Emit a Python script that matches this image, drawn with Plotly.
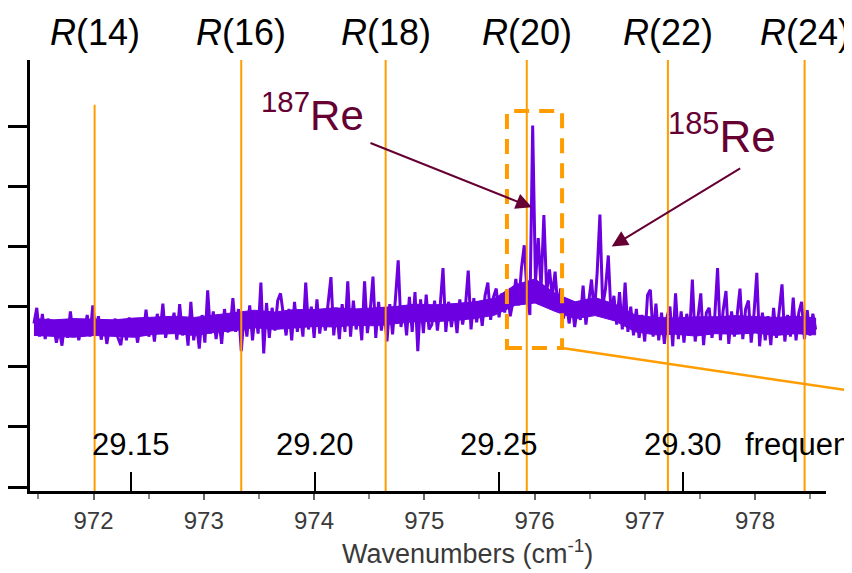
import numpy as np
import plotly.graph_objects as go

# spectrum (arbitrary units, one tick = 1)
WN_START, WN_END = 971.46, 978.55
signal = [
    2.72, 2.98, 2.50, 2.88, 2.46, 2.80, 2.55, 2.70, 2.40, 2.62,
    2.35, 2.75, 2.48, 2.92, 2.52, 2.78, 2.44, 2.70, 2.58, 2.86,
    2.50, 3.02, 2.60, 2.84, 2.45, 2.74, 2.38, 2.66, 2.52, 2.80,
    2.48, 2.36, 2.72, 2.44, 2.82, 2.55, 2.68, 2.40, 2.76, 2.52,
    2.95, 2.50, 2.80, 2.42, 2.88, 2.56, 3.05, 2.48, 2.76, 2.60,
    2.90, 2.45, 3.04, 2.52, 2.82, 2.35, 3.08, 2.44, 2.72, 2.30,
    2.86, 2.40, 3.27, 2.55, 2.92, 2.46, 2.78, 2.38, 2.96, 2.58,
    2.62, 3.14, 2.58, 2.96, 2.26, 2.88, 2.50, 3.02, 2.44, 2.92,
    2.55, 3.40, 2.22, 3.06, 2.48, 2.98, 2.60, 3.10, 3.22, 2.90,
    2.52, 2.96, 2.44, 3.08, 2.58, 2.88, 2.50, 3.40, 2.62, 3.00,
    2.48, 3.12, 2.55, 2.94, 2.60, 3.06, 3.49, 2.52, 2.98, 2.46,
    3.04, 2.58, 3.42, 2.50, 3.10, 2.62, 2.94, 2.44, 3.42, 2.56,
    2.92, 3.50, 2.48, 3.08, 2.60, 2.96, 2.42, 3.04, 2.54, 3.12,
    3.77, 2.66, 3.00, 2.52, 3.16, 2.58, 3.24, 2.26, 3.12, 2.56, 3.20, 2.62,
    2.70, 3.10, 2.60, 3.02, 3.64, 2.58, 3.08, 2.66, 2.98, 2.56,
    3.12, 2.70, 3.00, 3.60, 2.62, 3.14, 2.74, 3.06, 2.68, 3.18,
    3.40, 2.78, 3.16, 3.30, 2.82, 3.22, 2.90, 3.26, 2.84,
    3.10, 3.46, 3.02, 3.64, 4.02, 3.20, 2.86, 6.01, 3.40, 4.14,
    3.30, 4.52, 3.24, 3.62, 3.16, 3.58, 2.96, 3.30, 2.80, 3.10,
    2.72, 3.06, 2.66, 3.00, 2.78, 3.35, 2.70, 3.12, 3.45, 2.88,
    3.55, 4.53, 3.00, 3.30, 3.85, 2.84, 3.18, 2.70, 3.24, 2.62,
    3.40, 2.58, 3.00, 2.52, 2.96,
    2.48, 2.86, 2.42, 3.19, 3.28, 2.50, 3.05, 2.44, 2.90, 2.38,
    2.84, 3.00, 2.34, 3.22, 2.46, 2.92, 2.40, 2.88, 2.52, 3.45,
    2.42, 2.86, 3.22, 2.36, 2.90, 2.98, 2.48, 2.84, 3.64, 2.44,
    2.94, 3.26, 2.38, 2.92, 2.50, 2.86, 3.30, 2.46, 2.96, 3.10,
    2.40, 2.88, 3.56, 2.34, 2.90, 2.44, 2.84, 2.36, 2.98, 2.48,
    2.92, 3.37, 2.42, 2.86, 2.50, 3.15, 2.44, 2.90, 3.08, 2.46,
    2.94, 2.52, 2.88, 2.62,
]
wavenumber = np.linspace(WN_START, WN_END, len(signal))

# solid core of the noise band (bottom / top), read every ~20 px
band_low = [
    2.52, 2.50, 2.49, 2.52, 2.50, 2.49, 2.54, 2.55, 2.52, 2.57,
    2.60, 2.65, 2.62, 2.65, 2.67, 2.66, 2.69, 2.68, 2.72, 2.75,
    2.75, 2.77, 2.80, 2.86, 3.02, 3.06, 2.92, 2.80, 2.85, 2.76,
    2.58, 2.53, 2.54, 2.51, 2.55, 2.54, 2.56, 2.52, 2.55, 2.53,
]
band_high = [
    2.80, 2.78, 2.80, 2.79, 2.78, 2.81, 2.83, 2.84, 2.82, 2.86,
    2.89, 2.94, 2.91, 2.95, 2.95, 2.98, 2.96, 2.98, 3.00, 3.04,
    3.03, 3.05, 3.08, 3.14, 3.36, 3.46, 3.22, 3.08, 3.15, 3.04,
    2.86, 2.82, 2.81, 2.83, 2.83, 2.85, 2.83, 2.82, 2.84, 2.81,
]
band_wn = np.linspace(WN_START, WN_END, len(band_low))

r_labels = ["R(14)", "R(16)", "R(18)", "R(20)", "R(22)", "R(24)"]
r_positions = [972.01, 973.34, 974.65, 975.93, 977.21, 978.45]
freq_ticks = [29.15, 29.20, 29.25, 29.30]
wn_ticks = [972, 973, 974, 975, 976, 977, 978]

C_THZ = 0.0299792458  # THz per cm-1
X_RANGE = [971.424, 978.644]
Y_RANGE = [-0.066, 7.10]

ORANGE = "#ff9c00"
PURPLE = "#6c00e0"
MAROON = "#660033"
FONT = "Liberation Sans, Arial, sans-serif"


def xpaper(wn):
    return (wn - X_RANGE[0]) / (X_RANGE[1] - X_RANGE[0])


def ypaper(v):
    return (v - Y_RANGE[0]) / (Y_RANGE[1] - Y_RANGE[0])


fig = go.Figure()
fig.add_trace(go.Scatter(
    x=np.concatenate([band_wn, band_wn[::-1]]),
    y=band_high + band_low[::-1],
    fill="toself", fillcolor=PURPLE, mode="lines",
    line=dict(color=PURPLE, width=1),
    showlegend=False, hoverinfo="skip"))
fig.add_trace(go.Scatter(x=wavenumber, y=signal, mode="lines",
                         line=dict(color=PURPLE, width=3), showlegend=False))
# invisible trace so the frequency axis exists
fig.add_trace(go.Scatter(x=[X_RANGE[0] * C_THZ], y=[None], xaxis="x2",
                         showlegend=False, hoverinfo="skip"))

shapes = []
for i, wn in enumerate(r_positions):
    shapes.append(dict(type="line", xref="x", yref="paper", x0=wn, x1=wn,
                       y0=0, y1=0.896 if i == 0 else 1,
                       line=dict(color=ORANGE, width=2)))

box_x, box_y = [975.75, 976.25], [2.31, 6.25]
shapes.append(dict(type="rect", xref="x", yref="y",
                   x0=box_x[0], x1=box_x[1], y0=box_y[0], y1=box_y[1],
                   line=dict(color=ORANGE, width=4, dash="15px,10px")))
shapes.append(dict(type="line", xref="paper", yref="paper",
                   x0=xpaper(box_x[1]), y0=ypaper(box_y[0]),
                   x1=1.04, y1=0.23,
                   line=dict(color=ORANGE, width=2.5)))

annotations = []
for lab, wn in zip(r_labels, r_positions):
    annotations.append(dict(x=wn, y=1.063, xref="x", yref="paper",
                            text="<i>R</i>" + lab[1:], showarrow=False,
                            font=dict(size=36, color="black", family=FONT),
                            xanchor="center", yanchor="middle"))
for f in freq_ticks:
    annotations.append(dict(x=f, y=0.107, xref="x2", yref="paper",
                            text=f"{f:.2f}", showarrow=False,
                            font=dict(size=31, color="black", family=FONT),
                            xanchor="center", yanchor="middle"))
annotations.append(dict(x=0.896, y=0.107, xref="paper", yref="paper",
                        text="frequency", showarrow=False, xanchor="left",
                        yanchor="middle",
                        font=dict(size=31, color="black", family=FONT)))

# isotope labels and arrows
annotations.append(dict(x=973.99, y=6.23, xref="x", yref="y",
                        text="<sup>187</sup>Re", showarrow=False,
                        font=dict(size=42, color=MAROON, family=FONT)))
annotations.append(dict(x=977.70, y=5.88, xref="x", yref="y",
                        text="<sup>185</sup>Re", showarrow=False,
                        font=dict(size=44, color=MAROON, family=FONT)))
annotations.append(dict(x=975.977, y=4.65, xref="x", yref="y", text="",
                        showarrow=True, ax=-163, ay=-65, arrowhead=2,
                        arrowsize=1.6, arrowwidth=2, arrowcolor=MAROON))
annotations.append(dict(x=976.70, y=4.00, xref="x", yref="y", text="",
                        showarrow=True, ax=130, ay=-79, arrowhead=2,
                        arrowsize=1.6, arrowwidth=2, arrowcolor=MAROON))

annotations.append(dict(x=0.549, y=-0.142, xref="paper", yref="paper",
                        text="Wavenumbers (cm<sup>-1</sup>)", showarrow=False,
                        xanchor="center", yanchor="middle",
                        font=dict(size=27, color="#3a3a3a", family=FONT)))

# the page body adds an 8 px margin, so the figure is 8 px smaller
fig.update_layout(
    width=844, height=565,
    margin=dict(l=22, r=26, t=52, b=82),
    plot_bgcolor="white", paper_bgcolor="white",
    shapes=shapes, annotations=annotations,
    xaxis=dict(range=X_RANGE, tickvals=wn_ticks, ticks="outside", ticklen=6,
               tickwidth=1.5, tickcolor="#666", showgrid=False, zeroline=False,
               showline=True, linecolor="black", linewidth=2.5,
               ticklabelstandoff=0, automargin=False,
               tickfont=dict(size=24, color="#3a3a3a", family=FONT),
               minor=dict(dtick=0.5, ticks="outside", ticklen=5,
                          tickcolor="#888", tickwidth=1.5, showgrid=False)),
    xaxis2=dict(range=[X_RANGE[0] * C_THZ, X_RANGE[1] * C_THZ],
                overlaying="x", anchor="y", side="bottom", automargin=False,
                tickvals=freq_ticks, ticks="inside", ticklen=19, tickwidth=2,
                tickcolor="black", showticklabels=False, showgrid=False,
                zeroline=False, showline=False),
    yaxis=dict(range=Y_RANGE, tickvals=[0, 1, 2, 3, 4, 5, 6], automargin=False,
               ticks="outside", ticklen=20, tickwidth=2.5, tickcolor="black",
               showticklabels=False, showgrid=False, zeroline=False,
               showline=True, linecolor="black", linewidth=2.5),
)

fig.write_html("out.html")
